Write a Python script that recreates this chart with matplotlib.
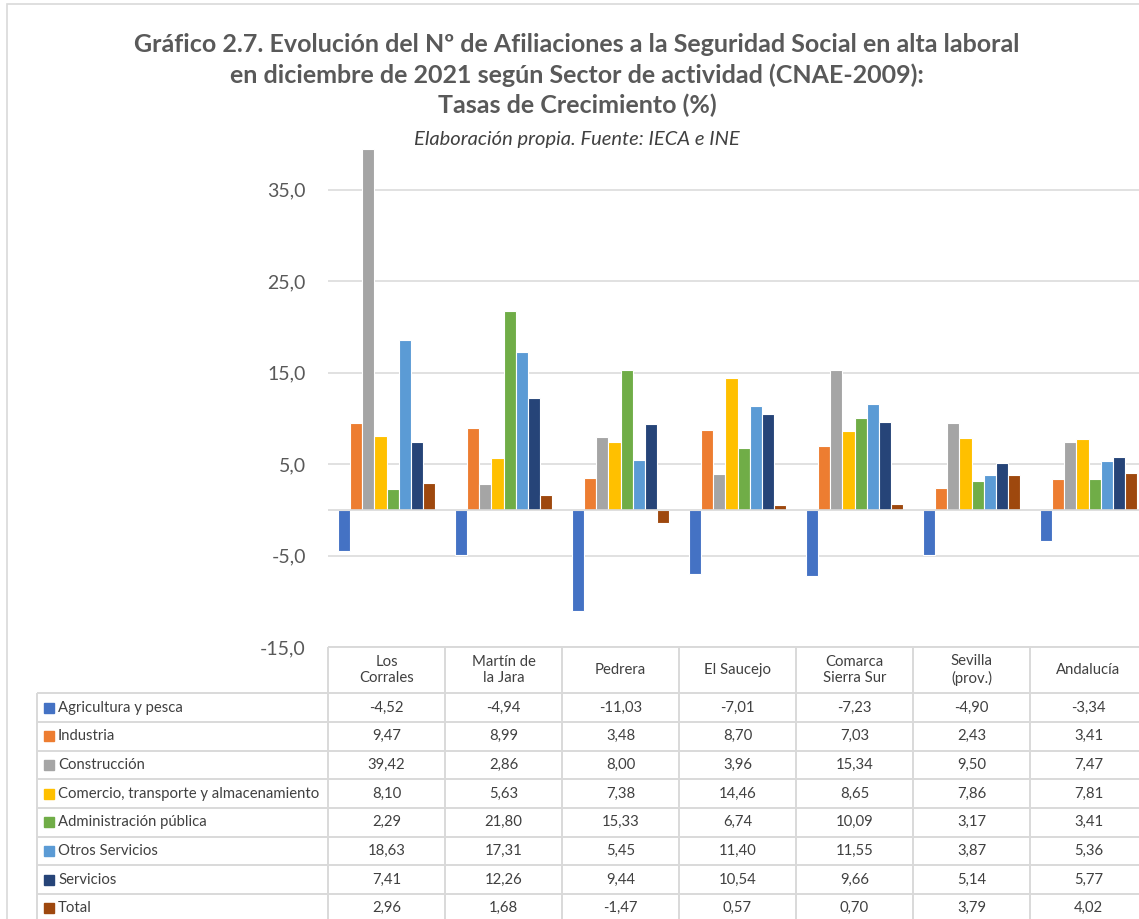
import matplotlib
matplotlib.use("Agg")
import matplotlib.pyplot as plt
import numpy as np
from matplotlib.patches import Rectangle

# Datos
territorios = ["Los\nCorrales", "Martín de\nla Jara", "Pedrera", "El Saucejo",
               "Comarca\nSierra Sur", "Sevilla\n(prov.)", "Andalucía"]
sectores = ["Agricultura y pesca", "Industria", "Construcción",
            "Comercio, transporte y almacenamiento", "Administración pública",
            "Otros Servicios", "Servicios", "Total"]
agricultura = [-4.52, -4.94, -11.03, -7.01, -7.23, -4.90, -3.34]
industria = [9.47, 8.99, 3.48, 8.70, 7.03, 2.43, 3.41]
construccion = [39.42, 2.86, 8.00, 3.96, 15.34, 9.50, 7.47]
comercio = [8.10, 5.63, 7.38, 14.46, 8.65, 7.86, 7.81]
administracion = [2.29, 21.80, 15.33, 6.74, 10.09, 3.17, 3.41]
otros_servicios = [18.63, 17.31, 5.45, 11.40, 11.55, 3.87, 5.36]
servicios = [7.41, 12.26, 9.44, 10.54, 9.66, 5.14, 5.77]
total = [2.96, 1.68, -1.47, 0.57, 0.70, 3.79, 4.02]
series = [agricultura, industria, construccion, comercio,
          administracion, otros_servicios, servicios, total]
colores = ["#4472C4", "#ED7D31", "#A5A5A5", "#FFC000",
           "#70AD47", "#5B9BD5", "#264478", "#9E480E"]
y_ticks = [-15, -5, 5, 15, 25, 35]

W, H = 1139, 919
FONT = "Lato"
GRID = "#d9d9d9"
TXT = "#595959"
TAB_TXT = "#404040"

plt.rcParams["font.family"] = [FONT, "DejaVu Sans"]

fig = plt.figure(figsize=(W / 100, H / 100), dpi=100)

# Marco exterior del gráfico
fig.patches.append(Rectangle((7 / W, -0.1), 1.2, 1 - 4 / H + 0.1,
                             transform=fig.transFigure, fill=False,
                             edgecolor=GRID, linewidth=1.2))

# Títulos
titulo = ["Gráfico 2.7. Evolución del Nº de Afiliaciones a la Seguridad Social en alta laboral",
          "en diciembre de 2021 según Sector de actividad (CNAE-2009):",
          "Tasas de Crecimiento (%)"]
for y_px, linea in zip([44, 75, 105], titulo):
    fig.text(577 / W, 1 - y_px / H, linea, ha="center", va="center",
             fontsize=18, fontweight="bold", color=TXT)
fig.text(577 / W, 1 - 139 / H, "Elaboración propia. Fuente: IECA e INE",
         ha="center", va="center", fontsize=14.5, style="italic", color=TAB_TXT)

# Área de barras
x_left, x_right = 328, 1147
y_top, y_bot = 144, 647.2
ax = fig.add_axes([x_left / W, 1 - y_bot / H, (x_right - x_left) / W, (y_bot - y_top) / H])

n = len(series)
x = np.arange(len(territorios))
w = 1 / (n + 1.6)
for k, (vals, col) in enumerate(zip(series, colores)):
    ax.bar(x + (k - (n - 1) / 2) * w, vals, width=w, color=col,
           edgecolor="white", linewidth=0.8, zorder=3)

ax.set_xlim(-0.5, len(territorios) - 0.5)
ax.set_ylim(-15, 40)
ax.set_yticks(y_ticks)
ax.set_yticklabels([f"{v:.1f}".replace(".", ",") for v in y_ticks])
ax.tick_params(axis="y", length=0, pad=16, labelsize=14, labelcolor=TXT)
ax.set_xticks([])
ax.grid(axis="y", color=GRID, linewidth=1.1, zorder=0)
ax.axhline(0, color=GRID, linewidth=1.2, zorder=4)
for s in ax.spines.values():
    s.set_visible(False)
ax.patch.set_alpha(0)

# Tabla de datos
t_left = 37
hdr = 46 / 28.67
n_rows = len(sectores)
t_bot = y_bot + 46 + n_rows * 28.67
tax = fig.add_axes([t_left / W, 1 - t_bot / H, (x_right - t_left) / W, (t_bot - y_bot) / H])
lab_left = -0.5 - (x_left - t_left) / 117
tax.set_xlim(lab_left, len(territorios) - 0.5)
tax.set_ylim(hdr + n_rows, 0)
tax.axis("off")

line_kw = dict(color=GRID, linewidth=1.4, solid_capstyle="butt", clip_on=False)
# cabecera
tax.plot([-0.5, len(territorios) - 0.5], [0, 0], **line_kw)
for i in range(len(territorios) + 1):
    tax.plot([i - 0.5, i - 0.5], [0, hdr + n_rows], **line_kw)
tax.plot([lab_left, lab_left], [hdr, hdr + n_rows], **line_kw)
for r in range(n_rows + 1):
    tax.plot([lab_left, len(territorios) - 0.5], [hdr + r, hdr + r], **line_kw)

for i, name in enumerate(territorios):
    tax.text(i, hdr / 2, name, ha="center", va="center", fontsize=10.7,
             color=TAB_TXT, linespacing=1.2)

for r, (name, vals, col) in enumerate(zip(sectores, series, colores)):
    yc = hdr + r + 0.5
    tax.plot(lab_left + 11.5 / 117, yc, marker="s", markersize=6.5,
             color=col, linestyle="none", clip_on=False)
    tax.text(lab_left + 21 / 117, yc, name, ha="left", va="center",
             fontsize=10.7, color=TAB_TXT)
    for i, v in enumerate(vals):
        tax.text(i, yc, f"{v:.2f}".replace(".", ","), ha="center", va="center",
                 fontsize=10.7, color=TAB_TXT)

fig.savefig("out.png", dpi=100)
